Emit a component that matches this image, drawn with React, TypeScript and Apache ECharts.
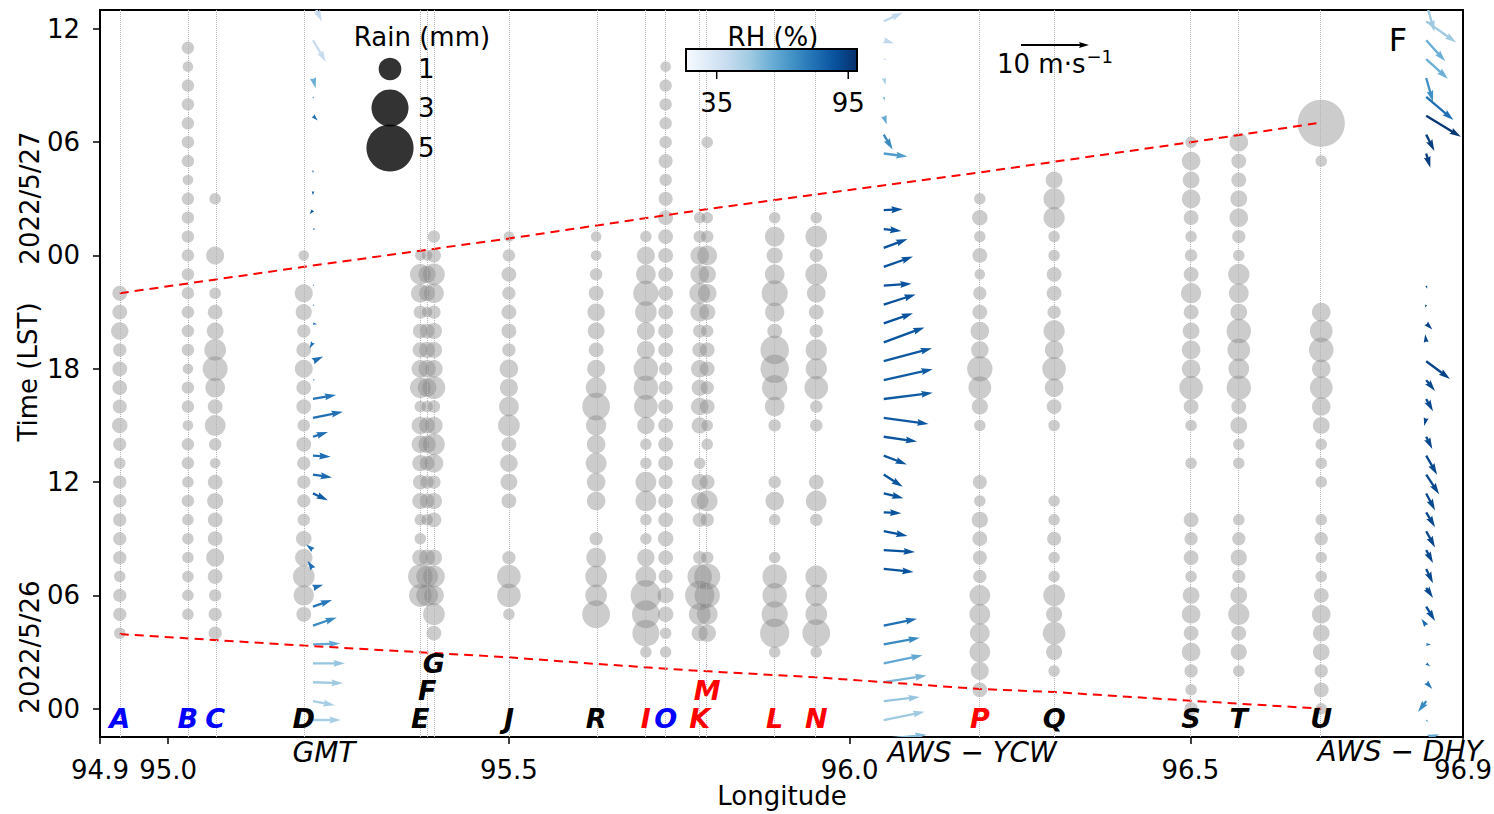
import React, { useEffect, useRef } from "react";
import * as echarts from "echarts";

const FONT = "DejaVu Sans";

// ---------- stations ----------
const stationNames = ["A", "B", "C", "D", "E", "F", "G", "J", "R", "I", "O", "K", "M", "L", "N", "P", "Q", "S", "T", "U"];
const stationLon = [94.929, 95.029, 95.069, 95.199, 95.37, 95.38, 95.39, 95.5, 95.628, 95.701, 95.73, 95.78, 95.791, 95.89, 95.951, 96.191, 96.3, 96.501, 96.571, 96.692];
const stationColor = ["#0000ff", "#0000ff", "#0000ff", "#000", "#000", "#000", "#000", "#000", "#000", "#ff0000", "#0000ff", "#ff0000", "#ff0000", "#ff0000", "#ff0000", "#ff0000", "#000", "#000", "#000", "#000"];
const stationLabelHour = [-0.5, -0.5, -0.5, -0.5, -0.5, 0.95, 2.4, -0.5, -0.5, -0.5, -0.5, -0.5, 0.95, -0.5, -0.5, -0.5, -0.5, -0.5, -0.5, -0.5];

// ---------- hourly rain (mm), index = hours since 2022/5/26 00 LST ----------
const rainA = [0, 0, 0, 0, .1, .2, .2, .1, .2, .2, .2, .2, .2, .1, .2, .35, .25, .3, .3, .2, .5, .3, .3, 0, 0, 0, 0, 0, 0, 0, 0, 0, 0, 0, 0, 0, 0];
const rainB = [0, 0, 0, 0, 0, .1, .1, .1, .1, .1, .1, .15, .1, .15, .15, .05, .15, .15, .05, .15, .15, .15, .15, .15, .15, .15, .15, .15, .05, .15, .15, .15, .15, .15, .05, .15, 0];
const rainC = [0, 0, 0, 0, .2, .2, .15, .3, .55, .3, .3, .4, .3, .05, .15, .8, .3, .7, 1.25, .9, .45, .3, .1, 0, .55, 0, 0, .1, 0, 0, 0, 0, 0, 0, 0, 0, 0];
const rainD = [0, 0, 0, 0, 0, .3, .75, .9, .5, .35, .15, .2, .2, .2, .3, .15, .3, .3, .55, .3, .2, .4, .55, 0, .05, 0, 0, 0, 0, 0, 0, 0, 0, 0, 0, 0, 0];
const rainE = [0, 0, 0, 0, 0, 0, 1.0, 1.2, .4, .1, .1, .4, .3, .4, .5, .5, .1, .8, .5, .35, .3, .2, .6, .8, .05, 0, 0, 0, 0, 0, 0, 0, 0, 0, 0, 0, 0];
const rainF = [0, 0, 0, 0, 0, 0, .9, .9, .4, 0, .1, .3, .2, .3, .5, .4, .1, .6, .5, .4, .3, .05, .4, .5, .05, 0, 0, 0, 0, 0, 0, 0, 0, 0, 0, 0, 0];
const rainG = [0, 0, 0, 0, .3, .9, .7, .9, .4, 0, .3, .4, .2, .6, .9, .5, .15, 1.0, .5, .4, .4, .2, .7, .9, .25, .15, 0, 0, 0, 0, 0, 0, 0, 0, 0, 0, 0];
const rainJ = [0, 0, 0, 0, 0, .1, 1.1, 1.1, .2, 0, 0, .3, .45, .5, .3, .9, .7, .55, .6, .2, .3, .3, .2, .3, .15, .05, 0, 0, 0, 0, 0, 0, 0, 0, 0, 0, 0];
const rainR = [0, 0, 0, 0, 0, 1.6, .9, .9, .7, .2, 0, .6, .6, .8, .6, .75, 1.6, .8, .55, .3, .45, .5, .3, .15, .05, .05, 0, 0, 0, 0, 0, 0, 0, 0, 0, 0, 0];
const rainI = [0, 0, 0, .1, 1.5, 1.6, 2.0, .8, .5, .1, .1, .8, .8, .1, .1, .5, 1.1, 1.2, 1.2, .55, .55, .9, 1.3, .7, .55, .1, 0, 0, 0, 0, 0, 0, 0, 0, 0, 0, 0];
const rainO = [0, 0, 0, .1, .1, .35, .4, .25, .3, .35, .3, .3, .25, .3, .3, .3, .3, .25, .2, .3, .3, .3, .3, .3, .3, .3, .3, .25, .15, .25, .15, .15, .15, .15, .05, 0, 0];
const rainK = [0, 0, 0, 0, .4, .9, 1.8, 1.2, .2, 0, .25, .5, .4, .1, 0, .4, .5, .4, .5, .3, .2, .6, .8, .6, .6, .15, .1, 0, 0, 0, 0, 0, 0, 0, 0, 0, 0];
const rainM = [0, 0, 0, 0, .5, .8, 1.3, 1.4, .15, 0, .2, .8, .3, 0, .1, .1, .3, .2, .3, .3, .15, .4, .6, .5, .7, .15, .1, 0, 0, 0, .1, 0, 0, 0, 0, 0, 0];
const rainL = [0, 0, 0, .1, 1.8, 1.4, 1.2, 1.2, .1, 0, .1, .6, .15, 0, 0, .15, .7, 1.3, 1.7, 1.7, .3, .65, 1.4, .7, .4, .7, .1, 0, 0, 0, 0, 0, 0, 0, 0, 0, 0];
const rainN = [0, 0, 0, .1, 1.6, .9, .9, .9, 0, 0, .15, .8, .3, 0, 0, .15, .15, 1.1, .85, .85, .2, .3, .6, .9, .2, .9, .1, 0, 0, 0, 0, 0, 0, 0, 0, 0, 0];
const rainP = [0, .3, .55, .8, .7, .8, .8, .2, .25, .3, .4, .1, .25, 0, 0, .1, .4, 1.0, 1.3, .5, .6, .3, .2, .05, .3, .1, .35, .1, 0, 0, 0, 0, 0, 0, 0, 0, 0];
const rainQ = [0, 0, .1, .4, 1.0, .4, .9, .1, .1, .25, .1, .1, 0, 0, 0, .1, .3, .6, 1.1, .6, .85, .2, .3, .3, .1, .1, .85, .85, .45, 0, 0, 0, 0, 0, 0, 0, 0];
const rainS = [.2, .1, .2, .6, .3, .6, .45, .1, .3, .2, .3, 0, 0, .1, 0, .1, .3, 1.1, .6, .6, .45, .3, .75, .3, .15, .1, .3, .6, .45, .6, .1, 0, 0, 0, 0, 0, 0];
const rainT = [0, 0, .1, .4, .3, .85, .45, .2, .4, .2, .1, 0, 0, .1, .1, .45, .3, 1.2, .8, 1.0, 1.2, .45, .7, .85, .1, .2, .6, .45, .3, .3, .6, 0, 0, 0, 0, 0, 0];
const rainU = [.1, .3, .2, .45, .45, .6, .3, .1, .1, .2, .1, 0, .1, .1, .1, .45, .6, 1.0, .6, 1.2, 1.0, .6, 0, 0, 0, 0, 0, 0, 0, .1, 0, 5.0, 0, 0, 0, 0, 0];
const rainByStation = [rainA, rainB, rainC, rainD, rainE, rainF, rainG, rainJ, rainR, rainI, rainO, rainK, rainM, rainL, rainN, rainP, rainQ, rainS, rainT, rainU];

// ---------- wind: [time (h), u (m/s), v (m/s), RH (%)] ----------
const gmtLon = 95.2125;
const ycwLon = 96.05;
const dhyLon = 96.846;
const gmtWind = [
  [37.4, 1.3, -2.8, 40], [35.4, 1.9, -3.2, 40], [33.4, 0.4, -1.5, 60], [32.4, 0.15, -0.3, 70], [31.4, 0.7, -0.7, 80],
  [28.4, 0.0, 0.4, 88], [27.4, 0.0, -0.6, 88], [26.4, -0.5, -0.6, 88], [25.4, 0.4, 0.0, 88], [22.4, 0.2, 0.2, 85],
  [21.4, 0.2, -0.2, 85], [20.4, 0.6, -0.1, 80], [19.4, -0.5, -0.9, 80], [18.4, 1.5, 0.7, 80], [17.4, 0.3, 0.1, 80],
  [16.4, 3.4, 0.6, 78], [15.4, 4.4, 0.9, 80], [14.4, 2.2, 0.7, 80], [13.4, 2.6, -0.15, 80], [12.4, 2.8, -0.45, 82],
  [11.4, 2.2, -1.0, 86], [8.4, -1.0, 0.8, 80], [7.4, -0.8, 1.2, 80], [6.4, 1.5, 0.45, 80], [5.4, 2.8, 1.0, 78],
  [4.4, 3.5, 1.2, 72], [3.4, 4.0, 0.15, 62], [2.4, 4.7, 0.0, 52], [1.4, 4.4, -0.15, 50], [0.4, 3.2, -0.6, 48], [-0.6, 4.1, 0.0, 48],
];
const ycwWind = [
  [36.4, 2.8, 1.3, 42], [35.4, 1.5, -0.45, 42], [34.4, 0.45, -0.15, 42], [33.4, 0.3, -1.0, 48], [32.4, 0.15, -0.6, 55],
  [31.4, 0.45, -1.3, 62], [30.4, 1.3, -2.2, 72], [29.4, 3.5, -0.45, 66],
  [26.4, 2.8, 0.15, 89], [25.4, 2.6, -0.3, 89], [24.4, 3.5, 1.3, 89], [23.4, 4.3, 1.5, 89], [22.4, 4.1, 0.3, 89],
  [21.4, 4.7, 1.5, 89], [20.4, 4.3, 1.5, 89], [19.4, 6.0, 2.2, 88], [18.4, 7.1, 1.9, 87], [17.4, 7.2, 1.6, 86],
  [16.4, 7.2, 0.9, 86], [15.4, 6.6, -0.9, 87], [14.4, 4.9, -0.7, 88], [13.4, 3.4, -1.3, 88], [12.4, 2.8, -1.8, 88],
  [11.4, 2.9, -0.7, 89], [10.4, 2.6, -0.15, 89], [9.4, 3.5, -0.7, 89], [8.4, 4.6, -0.3, 89], [7.4, 4.4, -0.45, 89],
  [4.4, 4.9, 1.0, 80], [3.4, 5.3, 1.0, 72], [2.4, 5.7, 1.2, 62], [1.4, 6.3, 1.0, 57], [0.4, 5.3, 0.6, 52],
  [-0.6, 6.0, 1.2, 50], [-1.6, 6.3, 0.6, 55],
];
const dhyWind = [
  [37.4, 1.2, -4.3, 50], [36.4, 4.4, -3.1, 50], [35.4, 2.8, -3.1, 60], [34.4, 3.2, -2.9, 60], [33.4, 1.0, -3.5, 70],
  [32.4, 4.0, -3.4, 80], [31.4, 5.1, -3.1, 97], [30.4, 1.2, -2.4, 95], [29.4, 0.6, -2.1, 95],
  [22.4, 0.15, -0.45, 93], [21.4, -0.15, -0.45, 93], [20.4, 0.9, -0.9, 93], [19.4, -0.15, 1.2, 93], [18.4, 3.5, -2.6, 93],
  [17.4, 1.3, -1.6, 92], [16.4, 1.0, -1.8, 92], [15.4, -0.3, -1.2, 92], [14.4, 0.9, -1.8, 92], [13.4, 1.6, -2.8, 92],
  [12.4, 1.9, -2.9, 92], [11.4, 1.3, -2.5, 92], [10.4, 1.3, -2.2, 92], [9.4, 1.3, -2.4, 92], [8.4, 1.0, -1.9, 92],
  [7.4, 1.0, -2.1, 92], [6.4, 1.0, -1.5, 92], [5.4, 1.3, -2.1, 90], [4.4, -0.7, 1.0, 82], [3.4, 0.7, 0.0, 80],
  [2.4, 0.6, -0.45, 80], [1.4, 0.9, -1.0, 78], [0.4, -1.2, -1.6, 72], [-0.6, 0.3, -0.3, 72], [-1.6, 1.9, 0.7, 62],
];

// ---------- rain front lines: [lon, hour] ----------
const upperLine = [[94.929, 22.0], [95.199, 23.4], [95.5, 24.9], [95.78, 26.4], [96.191, 28.4], [96.501, 30.0], [96.685, 31.0]];
const lowerLine = [[94.929, 3.95], [95.199, 3.34], [95.5, 2.72], [95.628, 2.37], [95.78, 2.0], [95.951, 1.66], [96.191, 1.04], [96.3, 0.88], [96.501, 0.42], [96.692, 0.0]];

// ---------- ticks / legends ----------
const xTicks = [94.9, 95.0, 95.5, 96.0, 96.5, 96.9];
const yTicks = [0, 6, 12, 18, 24, 30, 36];
const rainLegend = [1, 3, 5];
const rhRange = [21, 99];
const rhTicks = [35, 95];
const keySpeed = 10;

// ---------- styling helpers ----------
const PX_PER_MS = 6.8;
const SHAFT = 2.3;
const BLUES = ["#f7fbff", "#deebf7", "#c6dbef", "#9ecae1", "#6baed6", "#4292c6", "#2171b5", "#08519c", "#08306b"];

function hexToRgb(h: string) {
  const n = parseInt(h.slice(1), 16);
  return [(n >> 16) & 255, (n >> 8) & 255, n & 255];
}
function blues(t: number) {
  const tt = Math.max(0, Math.min(1, t)) * (BLUES.length - 1);
  const i = Math.min(BLUES.length - 2, Math.floor(tt));
  const f = tt - i;
  const a = hexToRgb(BLUES[i]);
  const b = hexToRgb(BLUES[i + 1]);
  const c = a.map((v, k) => Math.round(v + (b[k] - v) * f));
  return `rgb(${c[0]},${c[1]},${c[2]})`;
}
function rhColor(rh: number) {
  return blues((rh - rhRange[0]) / (rhRange[1] - rhRange[0]));
}
function rainDiameter(r: number) {
  return Math.sqrt(427 * r + 90);
}
function arrowPoints(x0: number, y0: number, dx: number, dy: number, w: number) {
  const L = Math.hypot(dx, dy);
  if (L < 0.3) return null;
  const ux = dx / L, uy = dy / L;
  const nx = -uy, ny = ux;
  const hl = 5 * w, hw = 3 * w, hal = 4.5 * w;
  let local: number[][];
  if (L >= hl) {
    local = [[0, -w / 2], [L - hal, -w / 2], [L - hl, -hw / 2], [L, 0], [L - hl, hw / 2], [L - hal, w / 2], [0, w / 2]];
  } else {
    const s = L / hl;
    local = [[0, -hw * s / 2], [L, 0], [0, hw * s / 2], [L - hal * s, 0]];
  }
  return local.map(([a, b]) => [x0 + a * ux + b * nx, y0 + a * uy + b * ny]);
}

function windSeries(lon: number, wind: number[][]) {
  return {
    type: "custom",
    clip: true,
    z: 3,
    dimensions: ["lon", "t", "u", "v", "rh"],
    encode: { x: "lon", y: "t" },
    data: wind.map(([t, u, v, rh]) => [lon, t, u, v, rh]),
    renderItem: (params: any, api: any) => {
      const p = api.coord([api.value(0), api.value(1)]);
      const pts = arrowPoints(p[0], p[1], api.value(2) * PX_PER_MS, -api.value(3) * PX_PER_MS, SHAFT);
      if (!pts) return null;
      return { type: "polygon", shape: { points: pts }, style: { fill: rhColor(api.value(4)) } };
    },
  };
}

export default function App() {
  const ref = useRef<HTMLDivElement>(null);

  useEffect(() => {
    const chart = echarts.init(ref.current!, null, { renderer: "svg" });

    const rainData: number[][] = [];
    stationLon.forEach((lon, si) => {
      rainByStation[si].forEach((r, h) => {
        if (r > 0) rainData.push([lon, h, r]);
      });
    });

    const labelData = stationNames.map((n, i) => ({
      name: n,
      value: [stationLon[i], stationLabelHour[i]],
      label: { color: stationColor[i] },
    }));

    // colorbar
    const BAR_X = 686, BAR_Y = 49, BAR_W = 171, BAR_H = 22;
    const gradStops = BLUES.map((c, i) => ({ offset: i / (BLUES.length - 1), color: c }));
    const rhTickX = (v: number) => BAR_X + ((v - rhRange[0]) / (rhRange[1] - rhRange[0])) * BAR_W;

    const keyLen = keySpeed * PX_PER_MS;
    const keyPts = arrowPoints(1021, 45, keyLen, 0, 2)!;

    const txt = (text: string, x: number, y: number, extra: any = {}) => ({
      type: "text",
      x,
      y,
      z: 10,
      ...extra,
      style: {
        text,
        fill: "#000",
        fontFamily: FONT,
        fontSize: 26,
        align: "center",
        verticalAlign: "middle",
        textAlign: "center",
        textVerticalAlign: "middle",
        ...(extra.style || {}),
      },
    });

    const graphic: any[] = [
      txt("Time (LST)", 28, 372, { rotation: Math.PI / 2 }),
      txt("2022/5/26", 30, 647, { rotation: Math.PI / 2 }),
      txt("2022/5/27", 30, 198, { rotation: Math.PI / 2 }),
      txt("Longitude", 782, 796),
      txt("Rain (mm)", 422, 37),
      ...rainLegend.map((v, i) => ({
        type: "circle",
        z: 10,
        shape: { cx: 390, cy: [69, 108, 148][i], r: rainDiameter(v) / 2 },
        style: { fill: "rgba(0,0,0,0.8)" },
      })),
      ...rainLegend.map((v, i) =>
        txt(String(v), 418, [69, 108, 148][i], { style: { align: "left", textAlign: "left" } })
      ),
      txt("RH (%)", 773, 37),
      {
        type: "rect",
        z: 10,
        shape: { x: BAR_X, y: BAR_Y, width: BAR_W, height: BAR_H },
        style: {
          fill: new echarts.graphic.LinearGradient(0, 0, 1, 0, gradStops),
          stroke: "#000",
          lineWidth: 2,
        },
      },
      ...rhTicks.map((v) => ({
        type: "line",
        z: 10,
        shape: { x1: rhTickX(v), y1: BAR_Y + BAR_H, x2: rhTickX(v), y2: BAR_Y + BAR_H + 8 },
        style: { stroke: "#000", lineWidth: 1.5 },
      })),
      ...rhTicks.map((v) => txt(String(v), rhTickX(v), 103)),
      { type: "polygon", z: 10, shape: { points: keyPts }, style: { fill: "#000" } },
      {
        type: "text",
        x: 997,
        y: 64,
        z: 10,
        style: {
          text: "{a|10 m·s}{b|−1}",
          fill: "#000",
          fontFamily: FONT,
          align: "left",
          verticalAlign: "middle",
          textAlign: "left",
          textVerticalAlign: "middle",
          rich: {
            a: { fontSize: 26, fontFamily: FONT, lineHeight: 40, fill: "#000", color: "#000" },
            b: { fontSize: 18, fontFamily: FONT, lineHeight: 40, verticalAlign: "top", padding: [3, 0, 0, 1], fill: "#000", color: "#000" },
          },
        },
      },
      txt("F", 1398, 40, { style: { fontSize: 32 } }),
      txt("GMT", 324, 752, { style: { fontStyle: "italic", fontSize: 28 } }),
      txt("AWS − YCW", 972, 752, { style: { fontStyle: "italic", fontSize: 28 } }),
      txt("AWS − DHY", 1400, 751, { style: { fontStyle: "italic", fontSize: 28 } }),
    ];

    const axisCommon = {
      type: "value",
      axisLine: { show: true, onZero: false, lineStyle: { color: "#000", width: 2 } },
      splitLine: { show: false },
    };

    const option: any = {
      animation: false,
      backgroundColor: "#fff",
      textStyle: { fontFamily: FONT },
      grid: {
        left: 100,
        right: 31,
        top: 10,
        bottom: 77,
        containLabel: false,
        outerBoundsMode: "none",
        show: true,
        borderColor: "#000",
        borderWidth: 2,
        backgroundColor: "transparent",
      },
      xAxis: {
        ...axisCommon,
        min: 94.9,
        max: 96.9,
        axisTick: { show: true, length: 7, lineStyle: { color: "#000", width: 1.5 }, customValues: xTicks },
        axisLabel: { customValues: xTicks, formatter: (v: number) => v.toFixed(1), fontSize: 26, color: "#000", margin: 20, fontFamily: FONT },
      },
      yAxis: {
        ...axisCommon,
        min: -1.5,
        max: 37,
        axisTick: { show: true, length: 7, lineStyle: { color: "#000", width: 1.5 }, customValues: yTicks },
        axisLabel: {
          customValues: yTicks,
          formatter: (v: number) => String(Math.round(v) % 24).padStart(2, "0"),
          fontSize: 26,
          color: "#000",
          margin: 20,
          fontFamily: FONT,
        },
      },
      series: [
        {
          type: "scatter",
          z: 2,
          data: rainData,
          symbolSize: (val: number[]) => rainDiameter(val[2]),
          itemStyle: { color: "rgba(128,128,128,0.4)", borderWidth: 0, opacity: 1 },
          markLine: {
            silent: true,
            symbol: ["none", "none"],
            label: { show: false },
            lineStyle: { type: "dotted", color: "#b5b5b5", width: 1 },
            data: stationLon.map((lon) => ({ xAxis: lon })),
          },
        },
        windSeries(gmtLon, gmtWind),
        windSeries(ycwLon, ycwWind),
        windSeries(dhyLon, dhyWind),
        {
          type: "line",
          z: 4,
          data: upperLine,
          showSymbol: false,
          lineStyle: { color: "#ff0000", width: 2, type: [9, 6] },
        },
        {
          type: "line",
          z: 4,
          data: lowerLine,
          showSymbol: false,
          lineStyle: { color: "#ff0000", width: 2, type: [9, 6] },
        },
        {
          type: "scatter",
          z: 6,
          symbolSize: 0,
          itemStyle: { opacity: 1 },
          data: labelData,
          label: {
            show: true,
            position: "inside",
            formatter: "{b}",
            fontSize: 27,
            lineHeight: 26,
            fontWeight: "bold",
            fontStyle: "italic",
            fontFamily: FONT,
            opacity: 1,
          },
        },
      ],
      graphic,
    };

    chart.setOption(option);
    return () => chart.dispose();
  }, []);

  return (
    <div
      ref={ref}
      style={{ position: "fixed", left: 0, top: 0, width: 1494, height: 814, background: "#fff" }}
    />
  );
}
